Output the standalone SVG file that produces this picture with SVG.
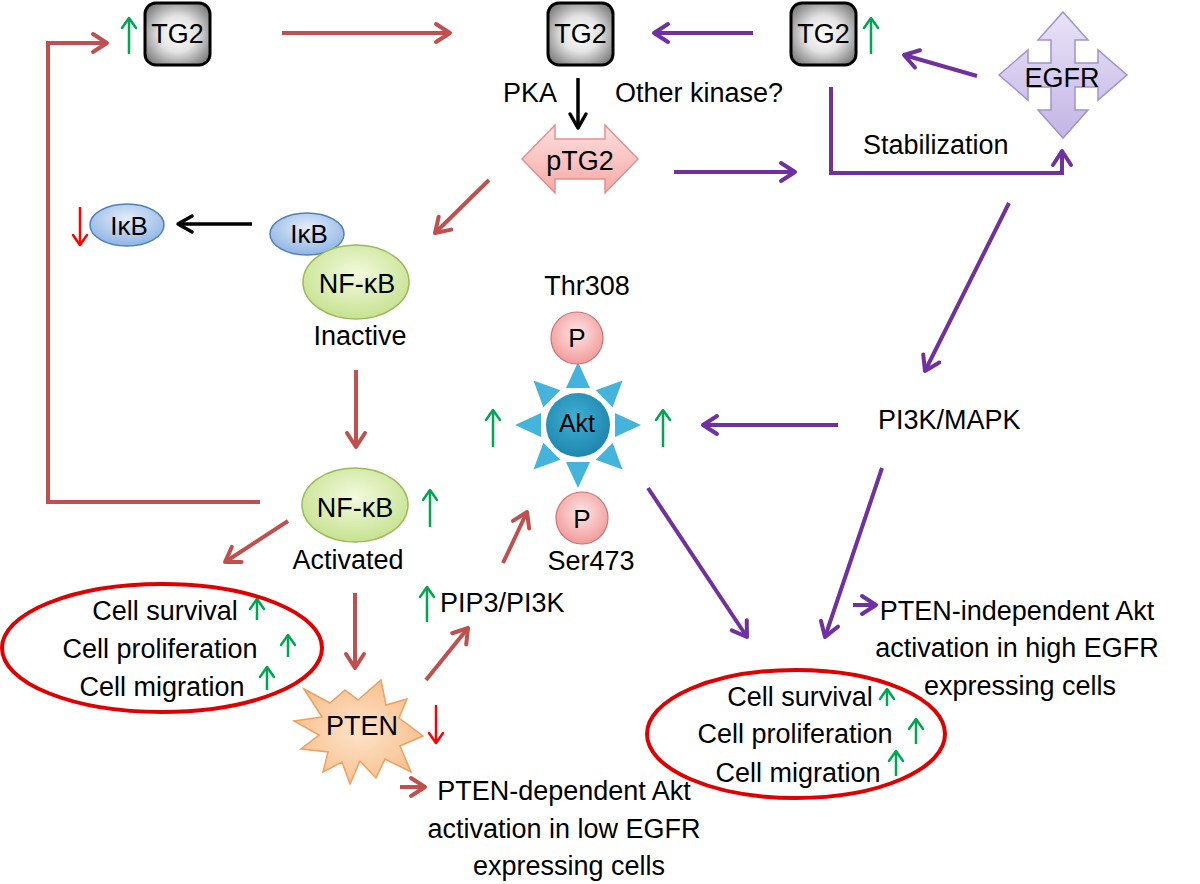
<svg xmlns="http://www.w3.org/2000/svg" width="1200" height="884" viewBox="0 0 1200 884">
<style>
text{font-family:"Liberation Sans",Arial,sans-serif;font-size:27px;fill:#000}
.c{text-anchor:middle}
.red{fill:none;stroke:#c0504d;stroke-width:4}
.pur{fill:none;stroke:#7030a0;stroke-width:4}
.blk{fill:none;stroke:#000;stroke-width:3.5}
.gup{fill:none;stroke:#00a651;stroke-width:2.5}
.rdn{fill:none;stroke:#ff0000;stroke-width:2.5}
.tg2{fill:url(#gGray);stroke:#000;stroke-width:3}
.ell{fill:none;stroke:#e00000;stroke-width:4}
.nfkb{fill:url(#gGreen);stroke:#9bbb59;stroke-width:1.5}
.ikb{fill:url(#gBlue);stroke:#4f81bd;stroke-width:1.5}
.pc{fill:url(#gPink);stroke:#d07070;stroke-width:1.2}
</style>
<defs>
<radialGradient id="gGray" cx="50%" cy="50%" r="65%"><stop offset="0" stop-color="#ffffff"/><stop offset="0.45" stop-color="#e3e3e3"/><stop offset="1" stop-color="#707070"/></radialGradient>
<radialGradient id="gGreen" cx="50%" cy="40%" r="60%"><stop offset="0" stop-color="#f4fadf"/><stop offset="1" stop-color="#c6e290"/></radialGradient>
<radialGradient id="gBlue" cx="50%" cy="35%" r="65%"><stop offset="0" stop-color="#e3edfa"/><stop offset="1" stop-color="#8fb4e4"/></radialGradient>
<radialGradient id="gPink" cx="50%" cy="40%" r="60%"><stop offset="0" stop-color="#fde6e6"/><stop offset="1" stop-color="#f29a9a"/></radialGradient>
<linearGradient id="gPTG2" x1="0" y1="0" x2="0" y2="1"><stop offset="0" stop-color="#fde0de"/><stop offset="1" stop-color="#f5a9a6"/></linearGradient>
<linearGradient id="gEGFR" x1="0" y1="0" x2="0" y2="1"><stop offset="0" stop-color="#e9e3f7"/><stop offset="1" stop-color="#c3b5e6"/></linearGradient>
<radialGradient id="gPTEN" cx="50%" cy="50%" r="55%"><stop offset="0" stop-color="#fde3c9"/><stop offset="1" stop-color="#f8bf8c"/></radialGradient>
<radialGradient id="gAkt" cx="45%" cy="40%" r="60%"><stop offset="0" stop-color="#3fb0d6"/><stop offset="1" stop-color="#1f86ad"/></radialGradient>
<linearGradient id="gSpike" gradientUnits="userSpaceOnUse" x1="0" y1="362" x2="0" y2="488"><stop offset="0" stop-color="#44b4dc"/><stop offset="1" stop-color="#2b8fb4"/></linearGradient>
<path id="spike" d="M0,-63 L12,-37 L-12,-37 Z"/>
<marker id="mRed" viewBox="-20 -12 24 24" refX="0" refY="0" markerWidth="24" markerHeight="24" orient="auto" markerUnits="userSpaceOnUse"><path d="M-14,-9 L0,0 L-14,9" fill="none" stroke="#c0504d" stroke-width="4" stroke-linecap="round" stroke-linejoin="round"/></marker>
<marker id="mPur" viewBox="-20 -12 24 24" refX="0" refY="0" markerWidth="24" markerHeight="24" orient="auto" markerUnits="userSpaceOnUse"><path d="M-14,-9 L0,0 L-14,9" fill="none" stroke="#7030a0" stroke-width="4" stroke-linecap="round" stroke-linejoin="round"/></marker>
<marker id="mBlk" viewBox="-20 -12 24 24" refX="0" refY="0" markerWidth="24" markerHeight="24" orient="auto" markerUnits="userSpaceOnUse"><path d="M-14,-8 L0,0 L-14,8" fill="none" stroke="#000" stroke-width="3.5" stroke-linecap="round" stroke-linejoin="round"/></marker>
<marker id="mGrn" viewBox="-14 -10 16 20" refX="0" refY="0" markerWidth="16" markerHeight="20" orient="auto" markerUnits="userSpaceOnUse"><path d="M-10,-7 L0,0 L-10,7" fill="none" stroke="#00a651" stroke-width="2.5" stroke-linecap="round" stroke-linejoin="round"/></marker>
<marker id="mRdn" viewBox="-14 -10 16 20" refX="0" refY="0" markerWidth="16" markerHeight="20" orient="auto" markerUnits="userSpaceOnUse"><path d="M-10,-7 L0,0 L-10,7" fill="none" stroke="#ff0000" stroke-width="2.5" stroke-linecap="round" stroke-linejoin="round"/></marker>
</defs>
<rect width="1200" height="884" fill="#fff"/>

<g id="connectors">
<path class="red" d="M282,33 L450,33" marker-end="url(#mRed)"/>
<path class="red" d="M260,502 L48,502 L48,43 L107,43" marker-end="url(#mRed)"/>
<path class="pur" d="M753,33 L654,33" marker-end="url(#mPur)"/>
<path class="blk" d="M578,78 L578,128" marker-end="url(#mBlk)"/>
<path class="pur" d="M674,172 L795,172" marker-end="url(#mPur)"/>
<path class="pur" d="M831,87 L831,173 L1062,173 L1062,151" marker-end="url(#mPur)"/>
<path class="pur" d="M977,76 L904,55" marker-end="url(#mPur)"/>
<path class="pur" d="M1009,203 L925,371" marker-end="url(#mPur)"/>
<path class="pur" d="M838,425 L703,425" marker-end="url(#mPur)"/>
<path class="pur" d="M882,468 L825,637" marker-end="url(#mPur)"/>
<path class="pur" d="M648,488 L747,637" marker-end="url(#mPur)"/>
<path class="pur" d="M853,605 L876,605" marker-end="url(#mPur)"/>
<path class="red" d="M489,180 L435,233" marker-end="url(#mRed)"/>
<path class="blk" d="M252,224 L178,224" stroke-width="3" marker-end="url(#mBlk)"/>
<path class="red" d="M356,370 L356,447" marker-end="url(#mRed)"/>
<path class="red" d="M288,521 L225,562" marker-end="url(#mRed)"/>
<path class="red" d="M355,593 L355,668" marker-end="url(#mRed)"/>
<path class="red" d="M426,680 L468,628" marker-end="url(#mRed)"/>
<path class="red" d="M503,563 L527,512" marker-end="url(#mRed)"/>
<path class="red" d="M400,787 L425,787" marker-end="url(#mRed)"/>
</g>

<g id="indicators">
<path class="gup" d="M129,54 L129,18" marker-end="url(#mGrn)"/>
<path class="gup" d="M871,54 L871,18" marker-end="url(#mGrn)"/>
<path class="gup" d="M493,447 L493,410" marker-end="url(#mGrn)"/>
<path class="gup" d="M663,447 L663,410" marker-end="url(#mGrn)"/>
<path class="gup" d="M430,527 L430,490" marker-end="url(#mGrn)"/>
<path class="gup" d="M427,622 L427,587" marker-end="url(#mGrn)"/>
<path class="gup" d="M257,620 L257,599" marker-end="url(#mGrn)"/>
<path class="gup" d="M288,657 L288,635" marker-end="url(#mGrn)"/>
<path class="gup" d="M267,690 L267,667" marker-end="url(#mGrn)"/>
<path class="gup" d="M887,706 L887,689" marker-end="url(#mGrn)"/>
<path class="gup" d="M916,744 L916,719" marker-end="url(#mGrn)"/>
<path class="gup" d="M896,776 L896,751" marker-end="url(#mGrn)"/>
<path class="rdn" d="M80,207 L80,245" marker-end="url(#mRdn)"/>
<path class="rdn" d="M436,705 L436,743" marker-end="url(#mRdn)"/>
</g>

<g id="tg2-left"><rect class="tg2" x="145" y="3" width="65" height="62" rx="11"/><text class="c" x="177.5" y="43">TG2</text></g>
<g id="tg2-mid"><rect class="tg2" x="548" y="3" width="65" height="62" rx="11"/><text class="c" x="580.5" y="43">TG2</text></g>
<g id="tg2-right"><rect class="tg2" x="791" y="3" width="65" height="62" rx="11"/><text class="c" x="823.5" y="43">TG2</text></g>

<g id="labels-kinase">
<text x="503" y="102">PKA</text>
<text x="615" y="102">Other kinase?</text>
<text x="863" y="154">Stabilization</text>
</g>

<g id="ptg2">
<path d="M522,159 L555,125 L555,139 L605,139 L605,125 L638,159 L605,193 L605,179 L555,179 L555,193 Z" fill="url(#gPTG2)" stroke="#e6908c" stroke-width="1.5"/>
<text class="c" x="580" y="170">pTG2</text>
</g>

<g id="egfr">
<path d="M1063,12 L1088,40 L1075,40 L1075,63 L1098,63 L1098,50 L1127,75 L1098,100 L1098,87 L1075,87 L1075,110 L1088,110 L1063,138 L1038,110 L1051,110 L1051,87 L1028,87 L1028,100 L999,75 L1028,50 L1028,63 L1051,63 L1051,40 L1038,40 Z" fill="url(#gEGFR)" stroke="#a293cf" stroke-width="1.5"/>
<text class="c" x="1062" y="87">EGFR</text>
</g>

<g id="ikb-free">
<ellipse class="ikb" cx="127" cy="225" rx="37" ry="21"/>
<text class="c" x="129" y="235" style="font-size:26px">IκB</text>
</g>

<g id="nfkb-inactive">
<ellipse class="ikb" cx="307" cy="234" rx="37" ry="21"/>
<text class="c" x="309" y="243" style="font-size:26px">IκB</text>
<ellipse class="nfkb" cx="356" cy="282" rx="53" ry="37"/>
<text class="c" x="357" y="293">NF-κB</text>
<text class="c" x="360" y="345">Inactive</text>
</g>

<g id="akt">
<g fill="url(#gSpike)">
<use href="#spike" transform="translate(578,425)"/>
<use href="#spike" transform="translate(578,425) rotate(45)"/>
<use href="#spike" transform="translate(578,425) rotate(90)"/>
<use href="#spike" transform="translate(578,425) rotate(135)"/>
<use href="#spike" transform="translate(578,425) rotate(180)"/>
<use href="#spike" transform="translate(578,425) rotate(225)"/>
<use href="#spike" transform="translate(578,425) rotate(270)"/>
<use href="#spike" transform="translate(578,425) rotate(315)"/>
</g>
<circle cx="578" cy="425" r="32" fill="url(#gAkt)"/>
<text class="c" x="577" y="432" style="font-size:25px">Akt</text>
</g>

<g id="p-thr308">
<text class="c" x="587" y="295">Thr308</text>
<circle class="pc" cx="577" cy="338" r="26"/>
<text class="c" x="577" y="347" style="font-size:26px">P</text>
</g>

<g id="p-ser473">
<circle class="pc" cx="582" cy="518" r="26"/>
<text class="c" x="582" y="528" style="font-size:26px">P</text>
<text class="c" x="591" y="570">Ser473</text>
</g>

<g id="pi3k-mapk"><text x="878" y="429">PI3K/MAPK</text></g>

<g id="nfkb-active">
<ellipse class="nfkb" cx="355" cy="505" rx="53" ry="37"/>
<text class="c" x="355" y="517">NF-κB</text>
<text class="c" x="348" y="569">Activated</text>
</g>

<g id="pip3"><text x="440" y="612">PIP3/PI3K</text></g>

<g id="pten">
<path d="M304,689 L330,703 L345,690 L358,700 L381,680 L386,705 L407,699 L399,718 L423,736 L400,746 L411,772 L385,759 L376,778 L360,761 L350,784 L342,762 L323,772 L328,752 L301,749 L319,735 L294,721 L322,717 Z" fill="url(#gPTEN)" stroke="#f0a060" stroke-width="1.5"/>
<text class="c" x="362" y="735">PTEN</text>
</g>

<g id="outcome-left">
<ellipse class="ell" cx="162" cy="648" rx="160" ry="64"/>
<text class="c" x="165" y="620">Cell survival</text>
<text class="c" x="160" y="658">Cell proliferation</text>
<text class="c" x="162" y="696">Cell migration</text>
</g>

<g id="outcome-right">
<ellipse class="ell" cx="796" cy="734" rx="149" ry="64"/>
<text class="c" x="800" y="706">Cell survival</text>
<text class="c" x="795" y="743">Cell proliferation</text>
<text class="c" x="798" y="782">Cell migration</text>
</g>

<g id="note-independent">
<text class="c" x="1017" y="620">PTEN-independent Akt</text>
<text class="c" x="1017" y="657">activation in high EGFR</text>
<text class="c" x="1020" y="695">expressing cells</text>
</g>

<g id="note-dependent">
<text class="c" x="564" y="800">PTEN-dependent Akt</text>
<text class="c" x="564" y="838">activation in low EGFR</text>
<text class="c" x="569" y="875">expressing cells</text>
</g>
</svg>
